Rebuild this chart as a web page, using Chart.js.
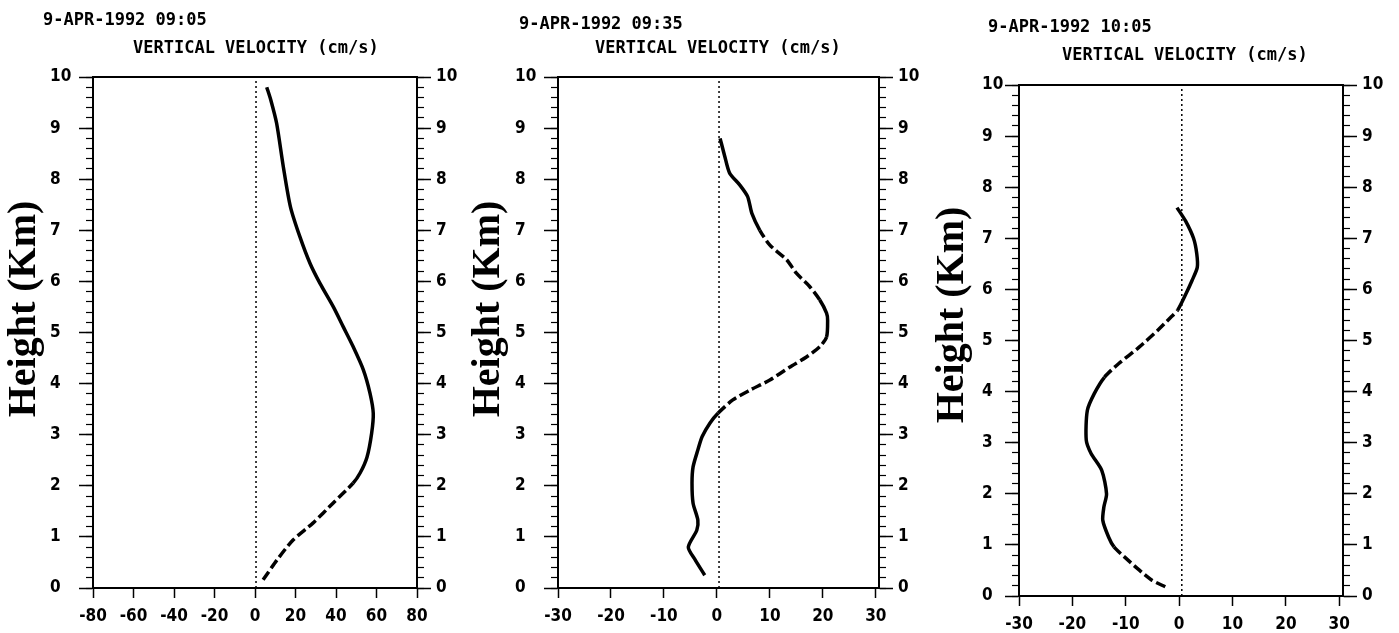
<!DOCTYPE html>
<html>
<head>
<meta charset="utf-8">
<script src="https://cdn.jsdelivr.net/npm/chart.js@4"></script>
<style>
    html, body { margin: 0; padding: 0; background: #fff; }
    #wrap { position: relative; width: 1399px; height: 633px; overflow: hidden; }
    canvas { position: absolute; top: 0; }
</style>
</head>
<body>
<div id="wrap">
    <canvas id="c0905" width="466" height="633" style="left:0px"></canvas>
    <canvas id="c0935" width="464" height="633" style="left:466px"></canvas>
    <canvas id="c1005" width="469" height="633" style="left:930px"></canvas>
</div>
<script>
// --- DADOS ---
const stamps = ['9-APR-1992 09:05', '9-APR-1992 09:35', '9-APR-1992 10:05'];
const chartTitle = 'VERTICAL VELOCITY (cm/s)';
const axisTitle = 'Height (Km)';

const heightTicks = [0, 10, 1];      // min, max, passo (km)
const velocityTicks0905 = [-80, 80, 20];
const velocityTicks0935 = [-30, 30.6, 10];
const velocityTicks1005 = [-30, 30.7, 10];

const zeroLine = [0.5, 0.4, 0.5];

const height0905 = [0.16, 0.55, 0.94, 1.27, 1.66, 2.05, 2.25, 2.56, 3.03, 3.42, 3.81, 4.27, 4.72, 5.11, 5.50, 5.96, 6.35, 6.87, 7.46, 8.24, 9.09, 9.55, 9.80];
const velocity0905 = [4.0, 10.9, 18.8, 28.6, 38.5, 48.4, 51.9, 55.3, 57.6, 58.4, 56.8, 53.5, 48.5, 43.6, 38.7, 32.1, 27.2, 22.2, 17.5, 14.0, 10.7, 7.8, 5.8];

const height0935 = [0.25, 0.55, 0.80, 1.13, 1.33, 1.66, 2.05, 2.37, 2.70, 2.96, 3.23, 3.42, 3.68, 3.87, 4.07, 4.32, 4.52, 4.72, 4.91, 5.24, 5.38, 5.64, 5.90, 6.16, 6.42, 6.71, 7.00, 7.33, 7.66, 7.89, 8.12, 8.44, 8.80];
const velocity0935 = [-2.3, -4.1, -5.4, -3.8, -3.6, -4.5, -4.7, -4.5, -3.6, -2.8, -1.3, 0.2, 3.0, 6.2, 10.0, 13.7, 16.9, 19.4, 20.7, 20.9, 20.7, 19.4, 17.5, 15.0, 13.2, 10.0, 8.1, 6.6, 5.8, 4.3, 2.4, 1.5, 0.6];

const height1005 = [0.18, 0.31, 0.51, 0.76, 0.96, 1.15, 1.48, 1.74, 2.00, 2.46, 2.79, 3.05, 3.63, 3.96, 4.28, 4.55, 4.86, 5.20, 5.45, 5.59, 5.92, 6.17, 6.43, 6.70, 7.00, 7.34, 7.60];
const velocity1005 = [-2.6, -5.1, -7.5, -10.2, -12.2, -13.2, -14.3, -14.1, -13.6, -14.5, -16.5, -17.4, -17.2, -15.9, -14.0, -11.3, -7.6, -4.0, -1.6, -0.3, 1.3, 2.4, 3.4, 3.3, 2.7, 1.2, -0.4];

// trechos tracejados (km)
const dashed0905 = [[0, 2.1]];
const dashed0935 = [[3.35, 4.85], [5.6, 6.9]];
const dashed1005 = [[0, 1.0], [4.3, 5.65]];

// --- LAYOUT DE CADA PAINEL ---
const paineis = [
    { canvas: 'c0905', heights: height0905, values: velocity0905, ticks: velocityTicks0905, dashed: dashed0905,
      padLeft: 50, yLeft: 43, yRight: 49, top: 77, xH: 45,
      stamp: [43, 21], title: [133, 49], axis: [25, 309] },
    { canvas: 'c0935', heights: height0935, values: velocity0935, ticks: velocityTicks0935, dashed: dashed0935,
      padLeft: 49, yLeft: 43, yRight: 51, top: 77, xH: 45,
      stamp: [53, 25], title: [129, 49], axis: [23, 309] },
    { canvas: 'c1005', heights: height1005, values: velocity1005, ticks: velocityTicks1005, dashed: dashed1005,
      padLeft: 52, yLeft: 37, yRight: 56, top: 85, xH: 37,
      stamp: [58, 28], title: [132, 56], axis: [23, 315] }
];

const fonteTicks = { family: '"DejaVu Sans Condensed", "DejaVu Sans", sans-serif', size: 17, weight: 'bold' };

const textoPainel = {
    id: 'textoPainel',
    afterDraw(chart, args, opts) {
        const ctx = chart.ctx;
        ctx.save();
        ctx.fillStyle = '#000';
        ctx.textBaseline = 'middle';
        ctx.textAlign = 'left';
        ctx.font = 'bold 17px "DejaVu Sans Mono", monospace';
        ctx.fillText(opts.stamp, opts.stampPos[0], opts.stampPos[1]);
        ctx.fillText(chartTitle, opts.titlePos[0], opts.titlePos[1]);
        ctx.translate(opts.axisPos[0], opts.axisPos[1]);
        ctx.rotate(-Math.PI / 2);
        ctx.textAlign = 'center';
        ctx.font = 'bold 40px "Liberation Serif", "DejaVu Serif", serif';
        ctx.fillText(axisTitle, 0, 0);
        ctx.restore();
    }
};

function dentro(faixas, h) {
    return faixas.some(f => h >= f[0] && h <= f[1]);
}

paineis.forEach((p, i) => {
    const ctx = document.getElementById(p.canvas);
    const [xMin, xMax, xStep] = p.ticks;
    const [yMin, yMax, yStep] = heightTicks;

    const perfil = p.heights.map((h, k) => ({ x: p.values[k], y: h }));
    const zero = [{ x: zeroLine[i], y: yMin }, { x: zeroLine[i], y: yMax }];

    const eixoY = (pos, largura, extra) => Object.assign({
        type: 'linear', position: pos, min: yMin, max: yMax,
        afterFit: s => { s.width = largura; }
    }, extra);

    new Chart(ctx, {
        type: 'line',
        data: {
            datasets: [
                {
                    data: zero, borderColor: '#000', borderWidth: 1.5, borderDash: [2, 3],
                    pointRadius: 0, tension: 0
                },
                {
                    data: perfil, borderColor: '#000', borderWidth: 3.5, pointRadius: 0,
                    tension: 0.25, borderCapStyle: 'butt',
                    segment: {
                        borderDash: c => dentro(p.dashed, (c.p0.parsed.y + c.p1.parsed.y) / 2) ? [10, 4] : undefined
                    }
                }
            ]
        },
        options: {
            responsive: false,
            animation: false,
            layout: { padding: { left: p.padLeft, top: p.top, right: 0, bottom: 0 } },
            plugins: {
                legend: { display: false },
                tooltip: { enabled: false },
                textoPainel: { stamp: stamps[i], stampPos: p.stamp, titlePos: p.title, axisPos: p.axis }
            },
            scales: {
                x: {
                    type: 'linear', position: 'bottom', min: xMin, max: xMax,
                    afterFit: s => { s.height = p.xH; },
                    ticks: { stepSize: xStep, includeBounds: false, font: fonteTicks, color: '#000', padding: 8, maxRotation: 0 },
                    grid: { drawOnChartArea: false, tickLength: 10, tickWidth: 1.5, tickColor: '#000' },
                    border: { color: '#000', width: 2 }
                },
                xTopo: {
                    type: 'linear', position: 'top', min: xMin, max: xMax,
                    afterFit: s => { s.height = 0; },
                    ticks: { display: false },
                    grid: { display: false },
                    border: { color: '#000', width: 2 }
                },
                y: eixoY('left', p.yLeft, {
                    weight: 1,
                    ticks: { stepSize: yStep, font: fonteTicks, color: '#000', crossAlign: 'far', padding: 4 },
                    grid: { drawOnChartArea: false, tickLength: 14, tickWidth: 1.5, tickColor: '#000' },
                    border: { color: '#000', width: 2 }
                }),
                yMenorEsq: eixoY('left', 0, {
                    weight: 0,
                    ticks: { display: false, stepSize: 0.2, maxTicksLimit: 100 },
                    grid: { drawOnChartArea: false, tickLength: 7, tickWidth: 1.2, tickColor: '#000' },
                    border: { display: false }
                }),
                yDir: eixoY('right', p.yRight, {
                    weight: 1,
                    ticks: { stepSize: yStep, font: fonteTicks, color: '#000', padding: 5 },
                    grid: { drawOnChartArea: false, tickLength: 14, tickWidth: 1.5, tickColor: '#000' },
                    border: { color: '#000', width: 2 }
                }),
                yMenorDir: eixoY('right', 0, {
                    weight: 0,
                    ticks: { display: false, stepSize: 0.2, maxTicksLimit: 100 },
                    grid: { drawOnChartArea: false, tickLength: 7, tickWidth: 1.2, tickColor: '#000' },
                    border: { display: false }
                })
            }
        },
        plugins: [textoPainel]
    });
});
</script>
</body>
</html>
